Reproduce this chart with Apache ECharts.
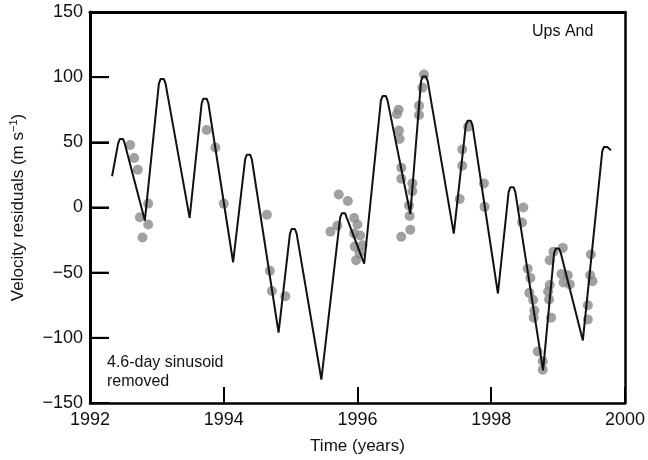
<!DOCTYPE html>
<html>
<head>
<meta charset="utf-8">
<script src="https://cdn.jsdelivr.net/npm/echarts@6/dist/echarts.min.js"></script>
<style>html,body{margin:0;padding:0;background:#fff;}#c{width:648px;height:460px;}</style>
</head>
<body>
<div id="c"></div>
<script>
// Model curve
var curveYears = [1992.33, 1992.42, 1992.445, 1992.47, 1992.495, 1992.52, 1992.82,
  1993.03, 1993.055, 1993.08, 1993.105, 1993.13, 1993.49,
  1993.67, 1993.695, 1993.72, 1993.745, 1993.77, 1994.14,
  1994.32, 1994.345, 1994.37, 1994.395, 1994.42, 1994.82,
  1994.99, 1995.015, 1995.04, 1995.065, 1995.09, 1995.46,
  1995.74, 1995.765, 1995.79, 1995.815, 1995.84, 1996.10,
  1996.35, 1996.375, 1996.40, 1996.425, 1996.45, 1996.79,
  1996.95, 1996.975, 1997.00, 1997.025, 1997.05, 1997.44,
  1997.62, 1997.645, 1997.67, 1997.695, 1997.72, 1998.10,
  1998.26, 1998.285, 1998.31, 1998.335, 1998.36, 1998.775,
  1998.94, 1998.965, 1998.99, 1999.015, 1999.04, 1999.37,
  1999.66, 1999.685, 1999.71, 1999.735, 1999.76, 1999.79];
var curveValues = [24, 49, 52.5, 54, 52.5, 49, -10,
  95, 98.5, 100, 98.5, 95, -8,
  80, 83.5, 85, 83.5, 80, -42,
  37, 40.5, 42, 40.5, 37, -96,
  -20, -16.5, -15, -16.5, -20, -132,
  -8, -4.5, -3, -4.5, -8, -43,
  82, 85.5, 87, 85.5, 82, -5,
  97, 100.5, 102, 100.5, 97, -20,
  63, 66.5, 68, 66.5, 63, -66,
  12, 15.5, 17, 15.5, 12, -125,
  -35, -31.5, -30, -31.5, -35, -102,
  43, 46.5, 48, 46.5, 46, 44];

var obsYears = [1992.60, 1992.66, 1992.715, 1992.87, 1992.745, 1992.87, 1992.785,
  1993.745, 1993.875, 1994.0,
  1994.645, 1994.69, 1994.72, 1994.92,
  1995.72, 1995.855, 1995.595, 1995.70,
  1995.95, 1996.0, 1996.04, 1995.95, 1995.96, 1996.075, 1995.98, 1996.03,
  1996.615, 1996.59, 1996.62, 1996.63, 1996.655, 1996.655, 1996.82, 1996.82, 1996.77, 1996.78, 1996.79, 1996.655, 1996.92, 1996.92, 1996.97, 1996.995,
  1997.655, 1997.567, 1997.567, 1997.528, 1997.89, 1997.90,
  1998.48, 1998.46, 1998.545, 1998.585, 1998.57, 1998.627, 1998.645, 1998.635, 1998.695, 1998.77, 1998.77,
  1998.874, 1998.85, 1998.865, 1998.895, 1998.874, 1998.93, 1999.07, 1999.05, 1999.145, 1999.08, 1999.175,
  1999.49, 1999.48, 1999.515, 1999.445, 1999.445];
var obsValues = [48, 38, 29, 3, -7.5, -13, -23,
  59.5, 46, 3,
  -5.5, -48.5, -64, -68,
  10, 5, -18.5, -14,
  -8, -13, -21.5, -20, -30, -29, -40.5, -35,
  75, 71.5, 59, 52.5, 30.5, 22, 18.5, 12.5, 1.5, -6.5, -17, -22.5, 78, 71, 92, 102,
  62, 44.5, 32, 6.5, 18.5, 0.5,
  0, -11.5, -47, -54, -65.5, -71, -79, -84.5, -110.5, -118, -124.5,
  -59.5, -64.5, -70.5, -84.5, -40.5, -34, -31, -51, -52, -57.5, -59,
  -36, -52, -56.5, -75, -86];

var xTicks = [1992, 1994, 1996, 1998, 2000];
var yTicks = [-150, -100, -50, 0, 50, 100, 150];

var curve = curveYears.map(function (x, i) { return [x, curveValues[i]]; });
var obs = obsYears.map(function (x, i) { return [x, obsValues[i]]; });

var FONT = "'Liberation Sans', Arial, Helvetica, sans-serif";
var xMin = xTicks[0], xMax = xTicks[xTicks.length - 1];
var yMin = yTicks[0], yMax = yTicks[yTicks.length - 1];
function frameAxis(pos, w) {
  return {type: 'value', position: pos, min: pos === 'top' ? xMin : yMin, max: pos === 'top' ? xMax : yMax,
    axisLine: {show: true, onZero: false, lineStyle: {color: '#000', width: w}},
    axisTick: {show: false}, axisLabel: {show: false}, splitLine: {show: false}};
}
var chart = echarts.init(document.getElementById('c'));
chart.setOption({
  animation: false,
  backgroundColor: '#fff',
  grid: {left: 87, right: 20, top: 12, bottom: 55},
  xAxis: [{
    type: 'value', position: 'bottom', min: xMin, max: xMax, interval: 2,
    name: 'Time (years)', nameLocation: 'middle', nameGap: 35,
    nameTextStyle: {fontSize: 17, color: '#111', fontFamily: FONT},
    axisLine: {show: true, onZero: false, lineStyle: {color: '#000', width: 2.5}},
    axisTick: {show: true, inside: true, length: 16, lineStyle: {color: '#000', width: 2}},
    axisLabel: {fontSize: 18, color: '#111', margin: 8, fontFamily: FONT,
      formatter: function (v) { return String(v); }},
    splitLine: {show: false}
  }, frameAxis('top', 3)],
  yAxis: [{
    type: 'value', position: 'left', min: yMin, max: yMax, interval: 50,
    name: '{a|Velocity residuals (m s}{b|−1}{a|)}', nameLocation: 'middle', nameGap: 62,
    nameTextStyle: {fontSize: 17, color: '#111', fontFamily: FONT,
      rich: {a: {fontSize: 17, color: '#111', fontFamily: FONT}, b: {fontSize: 11, color: '#111', fontFamily: FONT, padding: [0, 0, 9, 0]}}},
    axisLine: {show: true, onZero: false, lineStyle: {color: '#000', width: 3}},
    axisTick: {show: true, inside: true, length: 19, lineStyle: {color: '#000', width: 2}},
    axisLabel: {fontSize: 18, color: '#111', margin: 7, fontFamily: FONT,
      formatter: function (v) { return v < 0 ? '\u2212' + Math.abs(v) : String(v); }},
    splitLine: {show: false}
  }, frameAxis('right', 2.5)],
  series: [
    {type: 'scatter', data: obs, symbol: 'circle', symbolSize: 10,
      itemStyle: {color: '#8a8a8a'}, z: 2},
    {type: 'line', data: curve, showSymbol: false, symbol: 'none', smooth: false,
      lineStyle: {color: '#111', width: 2}, z: 3}
  ]
});

// Axis-tick decoration and notes placed through the chart's own scales
var gfx = [
  {type: 'text', z: 100, left: 532, top: 24, style: {text: 'Ups And', font: '16px ' + FONT, fill: '#111'}},
  {type: 'text', z: 100, left: 107, top: 353, style: {text: '4.6-day sinusoid\nremoved', font: '16px ' + FONT, fill: '#111', lineHeight: 19}}
];
yTicks.slice(1, -1).forEach(function (v) {
  var p = chart.convertToPixel({xAxisIndex: 0, yAxisIndex: 0}, [xMin, v]);
  gfx.push({type: 'line', z: 100, silent: true,
    shape: {x1: p[0], y1: p[1], x2: p[0] + 19, y2: p[1]},
    style: {stroke: '#000', lineWidth: 2}});
});
chart.setOption({graphic: gfx});
</script>
</body>
</html>
